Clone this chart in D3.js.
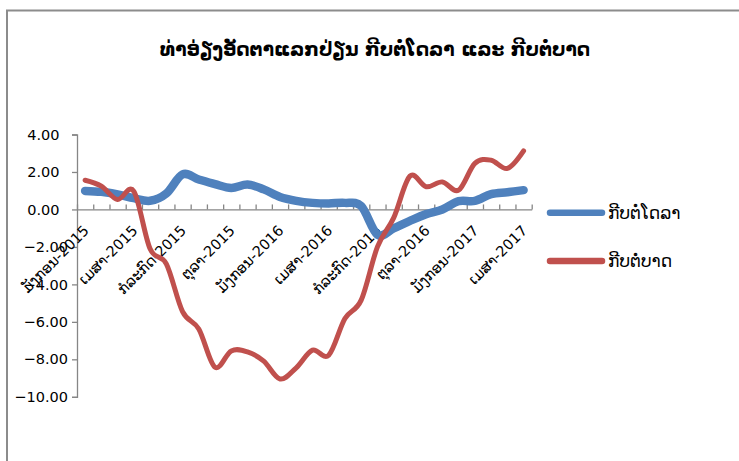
<!DOCTYPE html>
<meta charset="utf-8">
<script src="https://d3js.org/d3.v7.min.js"></script>
<style>
  body { margin: 0; background: #fff; }
  text { font-family: "DejaVu Sans", sans-serif; }
</style>
<div id="my_dataviz"></div>
<script>

// months Jan-2015 .. Apr-2017 (only every 3rd is labelled)
var months = [
  "ມັງກອນ-2015", "ກຸມພາ-2015", "ມີນາ-2015", "ເມສາ-2015", "ພຶດສະພາ-2015", "ມິຖຸນາ-2015",
  "ກໍລະກົດ-2015", "ສິງຫາ-2015", "ກັນຍາ-2015", "ຕຸລາ-2015", "ພະຈິກ-2015", "ທັນວາ-2015",
  "ມັງກອນ-2016", "ກຸມພາ-2016", "ມີນາ-2016", "ເມສາ-2016", "ພຶດສະພາ-2016", "ມິຖຸນາ-2016",
  "ກໍລະກົດ-2016", "ສິງຫາ-2016", "ກັນຍາ-2016", "ຕຸລາ-2016", "ພະຈິກ-2016", "ທັນວາ-2016",
  "ມັງກອນ-2017", "ກຸມພາ-2017", "ມີນາ-2017", "ເມສາ-2017"
];

// kip per dollar
var kipUsd = [0.99, 0.94, 0.80, 0.60, 0.46, 0.85, 1.87, 1.60, 1.35, 1.15, 1.33, 1.07,
              0.67, 0.46, 0.35, 0.32, 0.35, 0.18, -1.35, -1.01, -0.61, -0.25, 0.00, 0.44,
              0.46, 0.82, 0.92, 1.03];

// kip per baht
var kipThb = [1.56, 1.24, 0.53, 0.97, -2.10, -2.90, -5.45, -6.38, -8.42, -7.55, -7.60, -8.10,
              -9.05, -8.45, -7.51, -7.78, -5.82, -4.84, -2.00, -0.45, 1.78, 1.21, 1.47, 1.03,
              2.46, 2.63, 2.19, 3.13];

var yTicks = [4, 2, 0, -2, -4, -6, -8, -10];
var legendNames = ["ກີບຕໍ່ໂດລາ", "ກີບຕໍ່ບາດ"];
var colors = ["#4F81BD", "#C0504D"];
var titleText = "ທ່າອ່ຽງອັດຕາແລກປ່ຽນ ກີບຕໍ່ໂດລາ ແລະ ກີບຕໍ່ບາດ";

var W = 739, H = 461;
var plot = {left: 77, right: 531.7, top: 134.5, bottom: 396.8};

var svg = d3.select("#my_dataviz")
  .append("svg")
    .attr("width", W)
    .attr("height", H);

// chart border (runs past the picture edges)
svg.append("rect")
  .attr("x", 7).attr("y", 10.5)
  .attr("width", 800).attr("height", 500)
  .attr("fill", "none")
  .attr("stroke", "#8c8c8c")
  .attr("stroke-width", 2);

// title
svg.append("text")
  .attr("x", 375).attr("y", 56)
  .attr("text-anchor", "middle")
  .style("font-size", "18.6px")
  .style("font-weight", "bold")
  .text(titleText);

// scales
var x = d3.scaleBand()
  .domain(months)
  .range([plot.left, plot.right]);

var xEdge = d3.scaleLinear()
  .domain([0, months.length])
  .range([plot.left, plot.right]);

var y = d3.scaleLinear()
  .domain([-10, 4])
  .range([plot.bottom, plot.top]);

// Y axis
var yAxis = svg.append("g")
  .attr("transform", "translate(" + plot.left + ",0)")
  .call(d3.axisLeft(y).tickValues(yTicks).tickSize(5).tickFormat(d3.format(".2f")));
yAxis.select(".domain").attr("stroke", "#868686").attr("stroke-width", 1.3);
yAxis.selectAll(".tick line").attr("stroke", "#868686").attr("stroke-width", 1.3);
yAxis.selectAll(".tick text")
  .attr("x", function (d) { return d < 0 ? -9 : -17.5; })
  .style("font-size", "14.5px")
  .style("font-family", "DejaVu Sans")
  .attr("fill", "#000");

// X axis at zero, ticks between categories pointing up
var xAxis = svg.append("g")
  .attr("transform", "translate(0," + y(0) + ")")
  .call(d3.axisBottom(xEdge).tickValues(d3.range(0, months.length + 1)).tickSize(-5).tickSizeOuter(0).tickFormat(""));
xAxis.select(".domain").attr("stroke", "#868686").attr("stroke-width", 1.3);
xAxis.selectAll(".tick line").attr("stroke", "#868686").attr("stroke-width", 1.3);

// rotated category labels every 3 months
svg.append("g")
  .selectAll("text")
  .data(months.filter(function (d, i) { return i % 3 === 0; }))
  .enter()
  .append("text")
    .attr("transform", function (d) {
      return "translate(" + (x(d) + x.bandwidth() / 2 + 1) + "," + 228 + ") rotate(-45)";
    })
    .attr("text-anchor", "end")
    .attr("dy", "0.35em")
    .style("font-size", "14.5px")
    .text(function (d) { return d; });

// lines
var line = d3.line()
  .x(function (d, i) { return x(months[i]) + x.bandwidth() / 2; })
  .y(function (d) { return y(d); })
  .curve(d3.curveCardinal.tension(0));

svg.append("path")
  .datum(kipUsd)
  .attr("d", line)
  .attr("fill", "none")
  .attr("stroke", colors[0])
  .attr("stroke-width", 8.5)
  .attr("stroke-linecap", "round")
  .attr("stroke-linejoin", "round");

svg.append("path")
  .datum(kipThb)
  .attr("d", line)
  .attr("fill", "none")
  .attr("stroke", colors[1])
  .attr("stroke-width", 5)
  .attr("stroke-linecap", "round")
  .attr("stroke-linejoin", "round");

// legend
var legend = svg.append("g")
  .selectAll("g")
  .data(legendNames)
  .enter()
  .append("g")
    .attr("transform", function (d, i) { return "translate(550," + (212.7 + i * 48.3) + ")"; });

legend.append("line")
  .attr("x1", 0).attr("x2", 52)
  .attr("stroke", function (d, i) { return colors[i]; })
  .attr("stroke-width", 6.5)
  .attr("stroke-linecap", "round");

legend.append("text")
  .attr("x", 58)
  .attr("dy", "0.35em")
  .style("font-size", "17px")
  .text(function (d) { return d; });

</script>
